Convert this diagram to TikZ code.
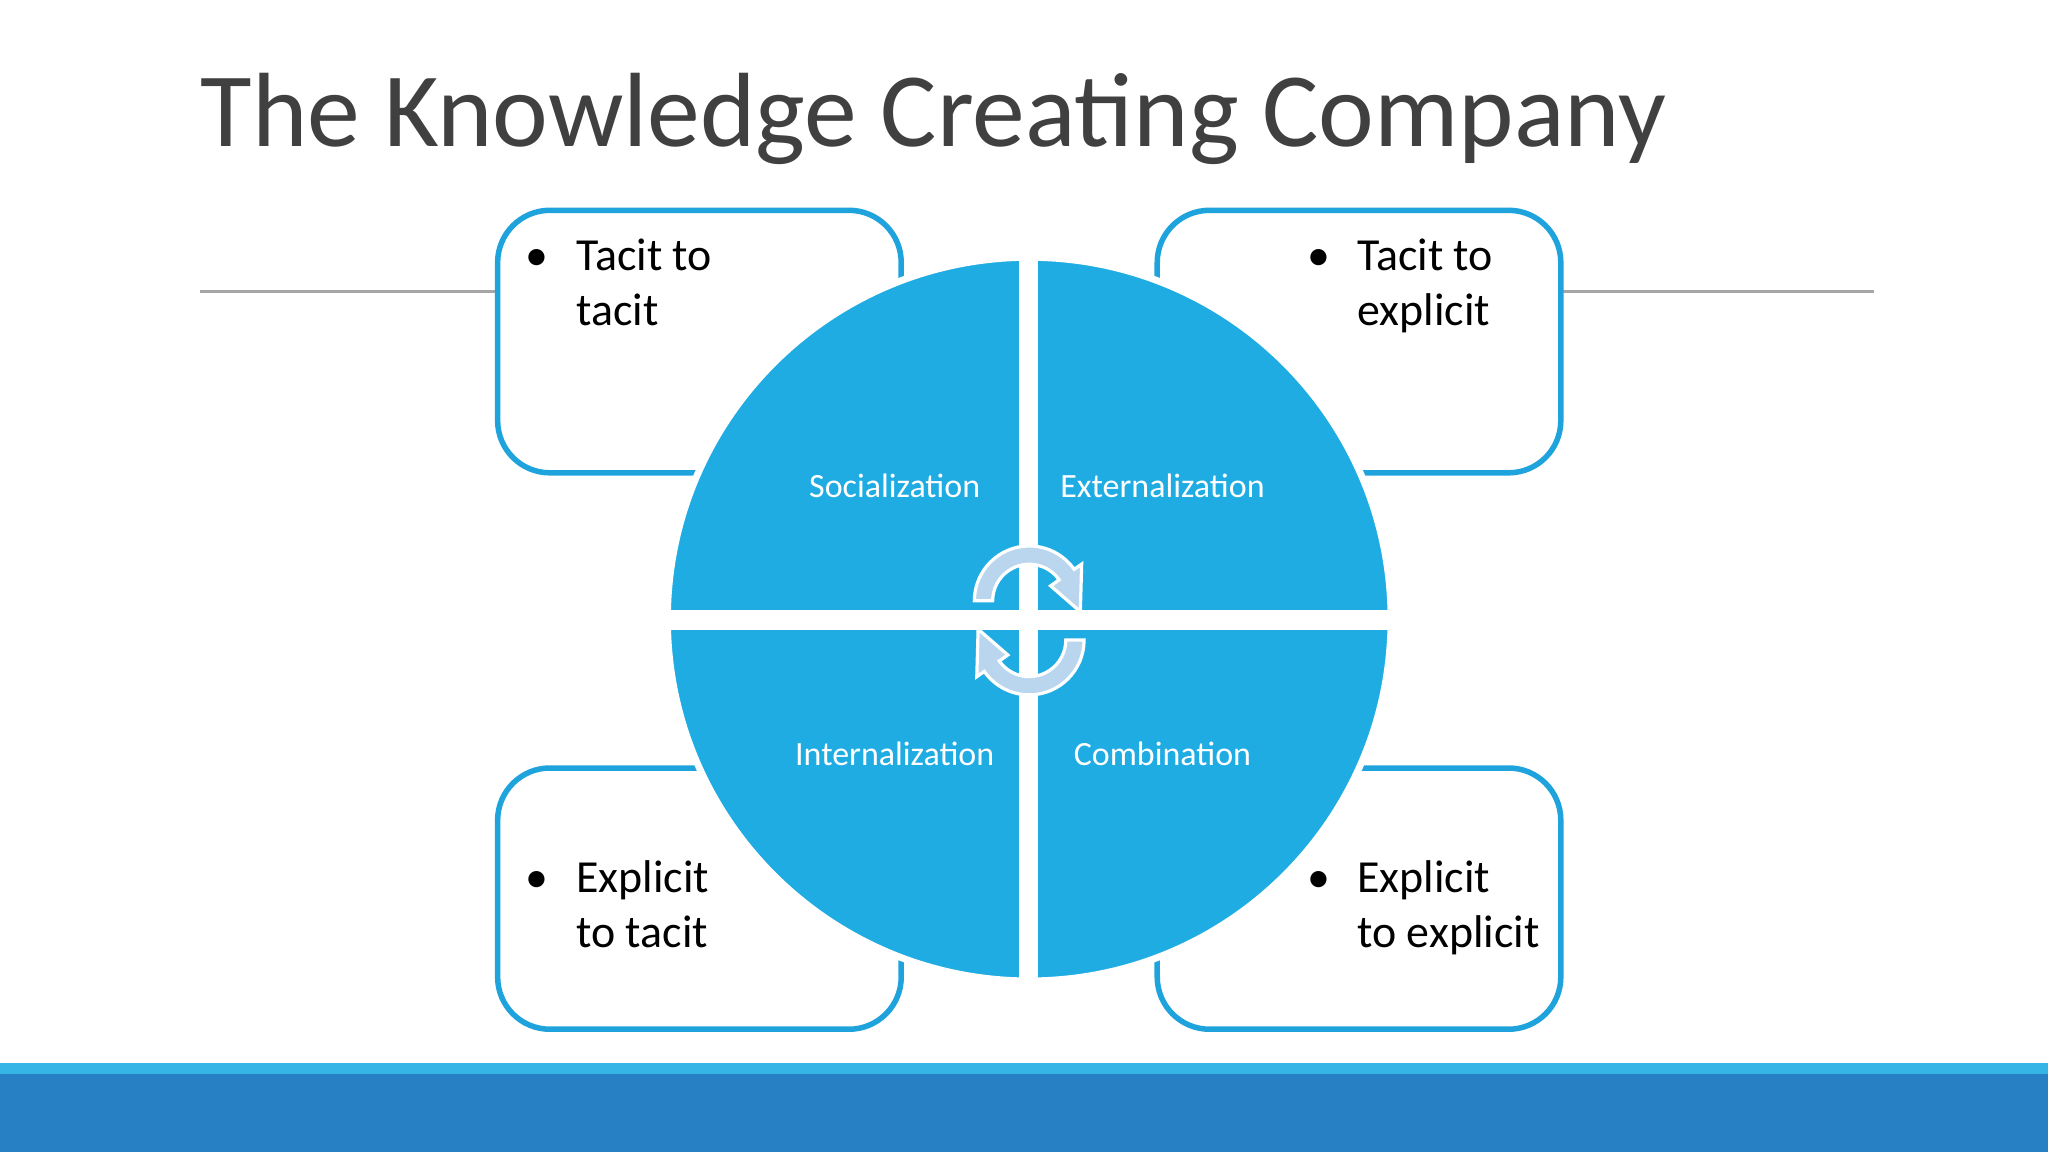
\documentclass[tikz,border=0pt]{standalone}
\usepackage{fontspec}
\setmainfont{Carlito}
\newfontfamily\lightfont{Carlito}
\definecolor{qblue}{HTML}{1FACE3}
\definecolor{bline}{HTML}{1FA3DC}
\definecolor{dblue}{HTML}{2780C4}
\definecolor{ablue}{HTML}{BAD6EF}
\definecolor{tgrey}{HTML}{404040}
\begin{document}
\begin{tikzpicture}[x=0.1mm,y=-0.1mm,
  box/.style={draw=bline,line width=1.2pt,fill=white,rounded corners=4mm},
  btxt/.style={anchor=north west,align=left,font=\fontsize{10}{12}\selectfont,inner sep=0},
  qtxt/.style={text=white,font=\fontsize{7.4}{9}\selectfont},
  arr/.style={fill=ablue,draw=white,line width=0.7pt}]
\useasboundingbox (0,0) rectangle (1568,882);
\fill[white] (0,0) rectangle (1568,882);
\node[anchor=base west,inner sep=0,text=tgrey,font=\fontsize{23}{27}\selectfont] (title) at (153,112) {The Knowledge Creating Company};
\draw[gray!70,line width=0.6pt] (153,223) -- (1435,223);
\draw[box] (381,161) rectangle (690,362);
\draw[box] (886,161) rectangle (1195,362);
\draw[box] (381,588) rectangle (690,788);
\draw[box] (886,588) rectangle (1195,788);
\node[btxt] (tl) at (402,182) {\textbullet\hspace{0.6em}\parbox[t]{3cm}{Tacit to\\tacit}};
\node[btxt] (tr) at (1000,182) {\textbullet\hspace{0.6em}\parbox[t]{3cm}{Tacit to\\explicit}};
\node[btxt] (bl) at (402,658) {\textbullet\hspace{0.6em}\parbox[t]{3cm}{Explicit\\to tacit}};
\node[btxt] (br) at (1000,658) {\textbullet\hspace{0.6em}\parbox[t]{3cm}{Explicit\\to explicit}};
\fill[qblue,draw=white,line width=1.5pt] (788,474) circle (277);
\fill[white] (780,190) rectangle (795,760);
\fill[white] (505,467) rectangle (1070,482);
\node[qtxt] (q1) at (685,372) {Socialization};
\node[qtxt] (q2) at (890,372) {Externalization};
\node[qtxt] (q3) at (685,577) {Internalization};
\node[qtxt] (q4) at (890,577) {Combination};
\begin{scope}[shift={(788,460)},y=0.1mm]
\draw[arr] (180:42) arc (180:35:42) -- (35:49) -- (-12:40) -- (35:20) -- (35:28) arc (35:180:28) -- cycle;
\end{scope}
\begin{scope}[shift={(788,490)},y=0.1mm,rotate=180]
\draw[arr] (180:42) arc (180:35:42) -- (35:49) -- (-12:40) -- (35:20) -- (35:28) arc (35:180:28) -- cycle;
\end{scope}
\fill[qblue!90!white] (0,814) rectangle (1568,822);
\fill[dblue] (0,822) rectangle (1568,882);
\end{tikzpicture}
\end{document}
